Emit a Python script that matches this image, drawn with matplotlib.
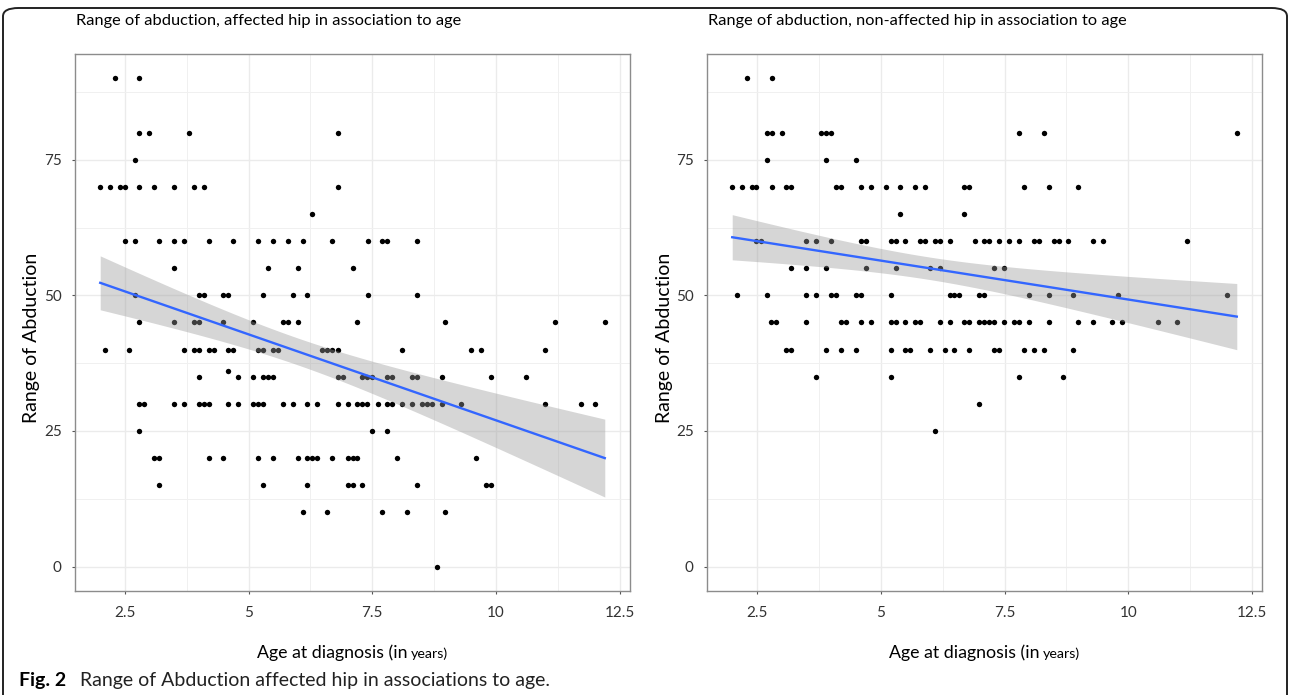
import matplotlib
matplotlib.use("Agg")
import matplotlib.pyplot as plt
from matplotlib.patches import FancyBboxPatch
from matplotlib.ticker import MultipleLocator
import numpy as np

# (age at diagnosis, range of abduction)
affectedPoints = [
    (2.30, 90), (2.79, 90),
    (2.79, 80), (2.99, 80), (3.80, 80), (6.80, 80),
    (2.70, 75),
    (2.00, 70), (2.20, 70), (2.40, 70), (2.50, 70), (2.79, 70), (3.09, 70), (3.49, 70),
    (3.89, 70), (4.09, 70), (6.80, 70),
    (6.29, 65),
    (2.50, 60), (2.70, 60), (3.19, 60), (3.49, 60), (3.69, 60), (4.19, 60), (4.69, 60),
    (5.19, 60), (5.50, 60), (5.79, 60), (6.09, 60), (6.69, 60), (7.41, 60), (7.69, 60),
    (7.80, 60), (8.40, 60),
    (3.49, 55), (5.39, 55), (5.99, 55), (7.10, 55),
    (2.70, 50), (3.99, 50), (4.09, 50), (4.49, 50), (4.59, 50), (5.29, 50), (5.89, 50),
    (6.19, 50), (7.41, 50), (8.40, 50),
    (2.79, 45), (3.49, 45), (3.89, 45), (3.99, 45), (4.49, 45), (5.09, 45), (5.70, 45),
    (5.80, 45), (5.99, 45), (7.20, 45), (8.98, 45), (11.20, 45), (12.20, 45),
    (2.10, 40), (2.59, 40), (3.69, 40), (3.89, 40), (3.99, 40), (4.19, 40), (4.29, 40),
    (4.59, 40), (4.69, 40), (5.19, 40), (5.29, 40), (5.49, 40), (5.59, 40), (6.49, 40),
    (6.59, 40), (6.69, 40), (6.80, 40), (8.10, 40), (9.50, 40), (9.70, 40), (11.00, 40),
    (4.59, 36),
    (3.99, 35), (4.79, 35), (5.09, 35), (5.29, 35), (5.39, 35), (5.49, 35), (6.80, 35),
    (6.90, 35), (7.30, 35), (7.40, 35), (7.49, 35), (7.80, 35), (7.90, 35), (8.30, 35),
    (8.40, 35), (8.91, 35), (9.91, 35), (10.60, 35),
    (2.79, 30), (2.89, 30), (3.49, 30), (3.69, 30), (3.99, 30), (4.09, 30), (4.19, 30),
    (4.59, 30), (4.79, 30), (5.09, 30), (5.19, 30), (5.29, 30), (5.70, 30), (5.89, 30),
    (6.19, 30), (6.39, 30), (6.80, 30), (7.00, 30), (7.20, 30), (7.30, 30), (7.40, 30),
    (7.61, 30), (7.80, 30), (7.90, 30), (8.10, 30), (8.30, 30), (8.50, 30), (8.60, 30),
    (8.70, 30), (8.91, 30), (9.30, 30), (11.00, 30), (11.71, 30), (12.00, 30),
    (2.79, 25), (7.49, 25), (7.80, 25),
    (3.09, 20), (3.19, 20), (4.19, 20), (4.49, 20), (5.19, 20), (5.49, 20), (5.99, 20),
    (6.19, 20), (6.29, 20), (6.39, 20), (6.69, 20), (7.00, 20), (7.10, 20), (7.20, 20),
    (8.00, 20), (9.60, 20),
    (3.19, 15), (5.29, 15), (6.19, 15), (7.00, 15), (7.10, 15), (7.30, 15), (8.40, 15),
    (9.80, 15), (9.91, 15),
    (6.09, 10), (6.59, 10), (7.69, 10), (8.20, 10), (8.98, 10),
    (8.80, 0),
]

nonAffectedPoints = [
    (2.30, 90), (2.80, 90),
    (2.70, 80), (2.80, 80), (3.00, 80), (3.79, 80), (3.89, 80), (3.99, 80), (7.79, 80),
    (8.29, 80), (12.19, 80),
    (2.70, 75), (3.89, 75), (4.50, 75),
    (2.00, 70), (2.20, 70), (2.39, 70), (2.49, 70), (2.80, 70), (3.09, 70), (3.19, 70),
    (4.09, 70), (4.19, 70), (4.60, 70), (4.80, 70), (5.10, 70), (5.39, 70), (5.69, 70),
    (5.89, 70), (6.68, 70), (6.78, 70), (7.89, 70), (8.39, 70), (8.99, 70),
    (5.39, 65), (6.69, 65),
    (2.49, 60), (2.59, 60), (3.49, 60), (3.69, 60), (3.99, 60), (4.60, 60), (4.70, 60),
    (5.20, 60), (5.30, 60), (5.49, 60), (5.79, 60), (5.89, 60), (6.09, 60), (6.19, 60),
    (6.39, 60), (6.90, 60), (7.08, 60), (7.18, 60), (7.39, 60), (7.59, 60), (7.80, 60),
    (8.09, 60), (8.19, 60), (8.49, 60), (8.59, 60), (8.79, 60), (9.29, 60), (9.49, 60),
    (11.19, 60),
    (3.19, 55), (3.49, 55), (3.89, 55), (4.70, 55), (5.30, 55), (5.99, 55), (6.19, 55),
    (7.28, 55), (7.49, 55),
    (2.10, 50), (2.70, 50), (3.49, 50), (3.69, 50), (3.99, 50), (4.09, 50), (4.50, 50),
    (4.60, 50), (5.20, 50), (6.39, 50), (6.48, 50), (6.58, 50), (6.98, 50), (7.08, 50),
    (7.99, 50), (8.39, 50), (8.89, 50), (9.79, 50), (11.99, 50),
    (2.78, 45), (2.88, 45), (3.49, 45), (4.19, 45), (4.29, 45), (4.60, 45), (4.80, 45),
    (5.20, 45), (5.30, 45), (5.49, 45), (5.69, 45), (5.79, 45), (6.19, 45), (6.39, 45),
    (6.68, 45), (6.78, 45), (6.98, 45), (7.08, 45), (7.18, 45), (7.28, 45), (7.48, 45),
    (7.69, 45), (7.79, 45), (7.99, 45), (8.39, 45), (8.99, 45), (9.29, 45), (9.68, 45),
    (9.88, 45), (10.59, 45), (10.99, 45),
    (3.09, 40), (3.19, 40), (3.89, 40), (4.19, 40), (4.50, 40), (5.20, 40), (5.49, 40),
    (5.59, 40), (5.99, 40), (6.29, 40), (6.48, 40), (6.78, 40), (7.28, 40), (7.38, 40),
    (7.89, 40), (8.09, 40), (8.29, 40), (8.89, 40),
    (3.69, 35), (5.20, 35), (7.79, 35), (8.69, 35),
    (6.98, 30),
    (6.09, 25),
]

titles = ["Range of abduction, affected hip in association to age",
          "Range of abduction, non-affected hip in association to age"]
xTicks = [2.5, 5, 7.5, 10, 12.5]
xTickLabels = ["2.5", "5", "7.5", "10", "12.5"]
yTicks = [0, 25, 50, 75]

plt.rcParams["font.family"] = ["Lato", "DejaVu Sans"]

W, H = 1290, 695


def lmFit(x, y, xs):
    # straight line fit with 95% confidence band, like geom_smooth(method="lm")
    x = np.asarray(x, dtype=float)
    y = np.asarray(y, dtype=float)
    n = len(x)
    slope, intercept = np.polyfit(x, y, 1)
    resid = y - (intercept + slope * x)
    s = np.sqrt(np.sum(resid ** 2) / (n - 2))
    sxx = np.sum((x - x.mean()) ** 2)
    fit = intercept + slope * xs
    se = s * np.sqrt(1 / n + (xs - x.mean()) ** 2 / sxx)
    return fit, fit - 1.97 * se, fit + 1.97 * se


fig = plt.figure(figsize=(W / 100, H / 100), dpi=100)
renderer = fig.canvas.get_renderer()
panelLefts = [75, 707]
panelWidth = 555
axTop, axBottom = 54, 591
axes = [fig.add_axes([l / W, 1 - axBottom / H, panelWidth / W, (axBottom - axTop) / H])
        for l in panelLefts]

allY = [p[1] for p in affectedPoints] + [p[1] for p in nonAffectedPoints]
yMin, yMax = min(allY), max(allY)
yPad = 0.05 * (yMax - yMin)

for ax, left, pts, title in zip(axes, panelLefts, [affectedPoints, nonAffectedPoints], titles):
    age = np.array([p[0] for p in pts])
    rom = np.array([p[1] for p in pts])
    xs = np.linspace(age.min(), age.max(), 80)
    fit, lo, hi = lmFit(age, rom, xs)

    ax.scatter(age, rom, s=15, color="black", linewidths=0, zorder=2)
    ax.fill_between(xs, lo, hi, color="#999999", alpha=0.4, linewidth=0, zorder=3)
    ax.plot(xs, fit, color="#3366FF", lw=1.7, zorder=4)

    xPad = 0.05 * (age.max() - age.min())
    ax.set_xlim(age.min() - xPad, age.max() + xPad)
    ax.set_ylim(yMin - yPad, yMax + yPad)

    ax.set_xticks(xTicks)
    ax.set_xticklabels(xTickLabels)
    ax.set_yticks(yTicks)
    ax.xaxis.set_minor_locator(MultipleLocator(1.25))
    ax.yaxis.set_minor_locator(MultipleLocator(12.5))
    ax.grid(which="major", color="#ebebeb", lw=1.0, zorder=0)
    ax.grid(which="minor", color="#f0f0f0", lw=0.7, zorder=0)
    ax.set_axisbelow(True)
    ax.tick_params(which="major", length=2.5, width=0.8, color="#555555",
                   labelsize=11, labelcolor="#333333")
    ax.tick_params(axis="x", pad=8)
    ax.tick_params(axis="y", pad=7)
    ax.tick_params(which="minor", length=0)
    for sp in ax.spines.values():
        sp.set_color("#8c8c8c")
        sp.set_linewidth(1.0)

    # panel title, aligned with the panel's left edge
    fig.text((left + 1) / W, 1 - 25 / H, title, fontsize=11.8, va="baseline")

    # y label
    fig.text((left - 43) / W, 1 - 338 / H, "Range of Abduction", fontsize=14,
             rotation=90, ha="center", va="center")

    # x label, "years)" set a bit smaller as in the original
    t1 = fig.text(0, 1 - 658 / H, "Age at diagnosis (in", fontsize=12.8, va="baseline")
    t2 = fig.text(0, 1 - 658 / H, "years)", fontsize=10.3, va="baseline")
    w1 = t1.get_window_extent(renderer).width
    w2 = t2.get_window_extent(renderer).width
    gap = 4
    x0 = left + panelWidth / 2 - (w1 + gap + w2) / 2
    t1.set_x(x0 / W)
    t2.set_x((x0 + w1 + gap) / W)

# rounded frame around the figure and the caption below it
frame = FancyBboxPatch((3 / W, -0.1), 1284 / W, 1 - 8 / H + 0.1,
                       boxstyle="round,pad=0,rounding_size=0.012",
                       transform=fig.transFigure, fill=False,
                       edgecolor="#222222", linewidth=1.4)
fig.patches.append(frame)
figLabel = fig.text(19 / W, 1 - 686 / H, "Fig. 2", fontsize=14, fontweight="bold",
                    va="baseline")
fig.text(80 / W, 1 - 686 / H, "Range of Abduction affected hip in associations to age.",
         fontsize=14, va="baseline", color="#222222")

fig.savefig("out.png", dpi=100)
